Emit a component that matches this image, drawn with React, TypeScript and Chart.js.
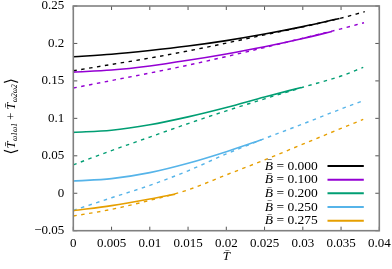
import React, { useEffect, useRef } from 'react';
import { Chart, registerables } from 'chart.js';
Chart.register(...registerables);

const FONT = '"Liberation Serif", "DejaVu Serif", serif';

// B values (legend labels) and colours
const bLabels = ['0.000', '0.100', '0.200', '0.250', '0.275'];
const colors = ['#000000', '#9400d3', '#009e73', '#56b4e9', '#e69f00'];

// Solid curves
const solidT_000 = [0, 0.005, 0.01, 0.015, 0.02, 0.025, 0.03, 0.0348];
const solidV_000 = [0.1823, 0.1855, 0.1905, 0.1965, 0.2038, 0.2125, 0.2225, 0.2332];
const solidT_100 = [0, 0.005, 0.01, 0.015, 0.02, 0.025, 0.03, 0.0338];
const solidV_100 = [0.1617, 0.1645, 0.17, 0.1775, 0.186, 0.1955, 0.2065, 0.216];
const solidT_200 = [0, 0.005, 0.01, 0.015, 0.02, 0.025, 0.0298];
const solidV_200 = [0.0813, 0.0842, 0.0915, 0.102, 0.1145, 0.1285, 0.1412];
const solidT_250 = [0, 0.005, 0.01, 0.015, 0.02, 0.0246];
const solidV_250 = [0.0164, 0.0195, 0.0275, 0.04, 0.0555, 0.0713];
const solidT_275 = [0, 0.005, 0.01, 0.0133];
const solidV_275 = [-0.0233, -0.0165, -0.0077, -0.0012];

// Dashed curves
const dashT_000 = [0, 0.005, 0.01, 0.015, 0.02, 0.025, 0.03, 0.035, 0.0381];
const dashV_000 = [0.1635, 0.172, 0.1805, 0.19, 0.2005, 0.2115, 0.2222, 0.2338, 0.2424];
const dashT_100 = [0, 0.005, 0.01, 0.015, 0.02, 0.025, 0.03, 0.035, 0.038];
const dashV_100 = [0.1405, 0.1505, 0.1605, 0.171, 0.1825, 0.1945, 0.207, 0.2195, 0.2277];
const dashT_200 = [0, 0.005, 0.01, 0.015, 0.02, 0.025, 0.03, 0.035, 0.0379];
const dashV_200 = [0.038, 0.057, 0.075, 0.093, 0.11, 0.126, 0.1415, 0.1565, 0.1681];
const dashT_250 = [0, 0.005, 0.01, 0.015, 0.02, 0.025, 0.03, 0.035, 0.0379];
const dashV_250 = [-0.0228, -0.006, 0.0105, 0.03, 0.0525, 0.073, 0.0925, 0.1125, 0.1236];
const dashT_275 = [0, 0.005, 0.01, 0.015, 0.02, 0.025, 0.03, 0.035, 0.0379];
const dashV_275 = [-0.0304, -0.0215, -0.0095, 0.0045, 0.0245, 0.0445, 0.0655, 0.0865, 0.0985];

// Ticks
const xTickValues = [0, 0.005, 0.01, 0.015, 0.02, 0.025, 0.03, 0.035, 0.04];
const xTickLabels = ['0', '0.005', '0.01', '0.015', '0.02', '0.025', '0.03', '0.035', '0.04'];
const yTickValues = [-0.05, 0, 0.05, 0.1, 0.15, 0.2, 0.25];
const yTickLabels = ['\u22120.05', '0', '0.05', '0.1', '0.15', '0.2', '0.25'];

const solidT = [solidT_000, solidT_100, solidT_200, solidT_250, solidT_275];
const solidV = [solidV_000, solidV_100, solidV_200, solidV_250, solidV_275];
const dashT = [dashT_000, dashT_100, dashT_200, dashT_250, dashT_275];
const dashV = [dashV_000, dashV_100, dashV_200, dashV_250, dashV_275];

const pts = (t: number[], v: number[]) => t.map((x, i) => ({ x, y: v[i] }));

const framePlugin = {
  id: 'frame',
  afterDatasetsDraw(chart: any) {
    const { ctx, chartArea: a, scales } = chart;
    ctx.save();
    ctx.strokeStyle = '#555';
    ctx.lineWidth = 1;
    const tl = 4;
    ctx.beginPath();
    xTickValues.forEach((v) => {
      const px = scales.x.getPixelForValue(v);
      ctx.moveTo(px, a.bottom);
      ctx.lineTo(px, a.bottom - tl);
      ctx.moveTo(px, a.top);
      ctx.lineTo(px, a.top + tl);
    });
    yTickValues.forEach((v) => {
      const py = scales.y.getPixelForValue(v);
      ctx.moveTo(a.left, py);
      ctx.lineTo(a.left + tl, py);
      ctx.moveTo(a.right, py);
      ctx.lineTo(a.right - tl, py);
    });
    ctx.stroke();
    ctx.strokeStyle = '#808080';
    ctx.lineWidth = 1.6;
    ctx.strokeRect(a.left, a.top, a.right - a.left, a.bottom - a.top);
    ctx.restore();
  },
};

const legendPlugin = {
  id: 'keyLegend',
  afterDraw(chart: any) {
    const { ctx, chartArea: a } = chart;
    ctx.save();
    const textRight = a.right - 61.5;
    const lineStart = a.right - 51.8;
    const lineEnd = a.right - 15.5;
    const y0 = a.bottom - 64.7;
    const dy = 13.67;
    ctx.textBaseline = 'middle';
    bLabels.forEach((lab, i) => {
      const y = y0 + i * dy;
      ctx.font = `13.5px ${FONT}`;
      const rest = ' = ' + lab;
      const wRest = ctx.measureText(rest).width;
      ctx.fillStyle = '#000';
      ctx.textAlign = 'left';
      ctx.fillText(rest, textRight - wRest, y);
      ctx.font = `italic 13.5px ${FONT}`;
      const b = 'B\u0304';
      const wB = ctx.measureText('B').width;
      ctx.fillText(b, textRight - wRest - wB, y);
      ctx.strokeStyle = colors[i];
      ctx.lineWidth = 2;
      ctx.beginPath();
      ctx.moveTo(lineStart, y);
      ctx.lineTo(lineEnd, y);
      ctx.stroke();
    });
    ctx.restore();
  },
};

const yTitlePlugin = {
  id: 'yTitle',
  afterDraw(chart: any) {
    const { ctx, chartArea: a } = chart;
    const cx = 12;
    const cy = (a.top + a.bottom) / 2 - 2;
    const parts = [
      { t: '\u27E8', f: `16px ${FONT}`, dy: 0 },
      { t: 'T\u0304', f: `italic 12.5px ${FONT}`, dy: 0, w: 'T' },
      { t: '\u03C91\u03C91', f: `italic 7.5px ${FONT}`, dy: 3.5 },
      { t: ' + ', f: `12.5px ${FONT}`, dy: 0 },
      { t: 'T\u0304', f: `italic 12.5px ${FONT}`, dy: 0, w: 'T' },
      { t: '\u03C92\u03C92', f: `italic 7.5px ${FONT}`, dy: 3.5 },
      { t: '\u27E9', f: `16px ${FONT}`, dy: 0 },
    ];
    ctx.save();
    ctx.translate(cx, cy);
    ctx.rotate(-Math.PI / 2);
    ctx.fillStyle = '#000';
    ctx.textBaseline = 'middle';
    ctx.textAlign = 'left';
    let total = 0;
    const widths = parts.map((p: any) => {
      ctx.font = p.f;
      const w = ctx.measureText(p.w || p.t).width + (p.w ? 0.5 : 0);
      total += w;
      return w;
    });
    let x = -total / 2;
    parts.forEach((p, i) => {
      ctx.font = p.f;
      ctx.fillText(p.t, x, p.dy);
      x += widths[i];
    });
    ctx.restore();
  },
};

export default function App() {
  const ref = useRef<HTMLCanvasElement>(null);
  useEffect(() => {
    document.body.style.margin = '0';
    const canvas = ref.current!;
    const datasets: any[] = [];
    for (let i = 0; i < 5; i++) {
      datasets.push({
        label: 'B = ' + bLabels[i],
        data: pts(solidT[i], solidV[i]),
        borderColor: colors[i],
        borderWidth: 1.6,
        pointRadius: 0,
        cubicInterpolationMode: 'monotone',
        fill: false,
      });
    }
    for (let i = 0; i < 5; i++) {
      datasets.push({
        label: 'dashed ' + bLabels[i],
        data: pts(dashT[i], dashV[i]),
        borderColor: colors[i],
        borderWidth: 1.4,
        borderDash: [3.5, 4.5],
        pointRadius: 0,
        cubicInterpolationMode: 'monotone',
        fill: false,
      });
    }
    const chart = new Chart(canvas, {
      type: 'line',
      data: { datasets },
      plugins: [framePlugin, legendPlugin, yTitlePlugin],
      options: {
        animation: false,
        responsive: false,
        devicePixelRatio: 1,
        parsing: false as any,
        layout: { padding: { left: 0, top: 6, right: 12.7, bottom: 0 } },
        plugins: { legend: { display: false }, tooltip: { enabled: false } },
        scales: {
          x: {
            type: 'linear',
            min: 0,
            max: 0.04,
            afterBuildTicks: (s: any) => {
              s.ticks = xTickValues.map((v) => ({ value: v }));
            },
            afterFit: (s: any) => {
              s.height = 38.3;
              s.paddingLeft = 0;
              s.paddingRight = 0;
            },
            ticks: {
              callback: (_v: any, i: number) => xTickLabels[i],
              font: { family: FONT, size: 13 },
              color: '#000',
              padding: 5,
              maxRotation: 0,
              autoSkip: false,
            },
            grid: { display: false, drawTicks: false },
            border: { display: false },
            title: {
              display: true,
              text: 'T\u0304',
              color: '#000',
              font: { family: FONT, size: 13, style: 'italic' },
              padding: { top: 0, bottom: 5 },
            },
          },
          y: {
            type: 'linear',
            min: -0.05,
            max: 0.25,
            afterBuildTicks: (s: any) => {
              s.ticks = yTickValues.map((v) => ({ value: v }));
            },
            afterFit: (s: any) => {
              s.width = 73.3;
              s.paddingTop = 0;
              s.paddingBottom = 0;
            },
            ticks: {
              callback: (_v: any, i: number) => yTickLabels[i],
              font: { family: FONT, size: 13 },
              color: '#000',
              padding: 9,
              autoSkip: false,
            },
            grid: { display: false, drawTicks: false },
            border: { display: false },
          },
        },
      } as any,
    });
    return () => chart.destroy();
  }, []);
  return (
    <div style={{ width: 392, height: 269 }}>
      <canvas ref={ref} width={392} height={269} />
    </div>
  );
}
